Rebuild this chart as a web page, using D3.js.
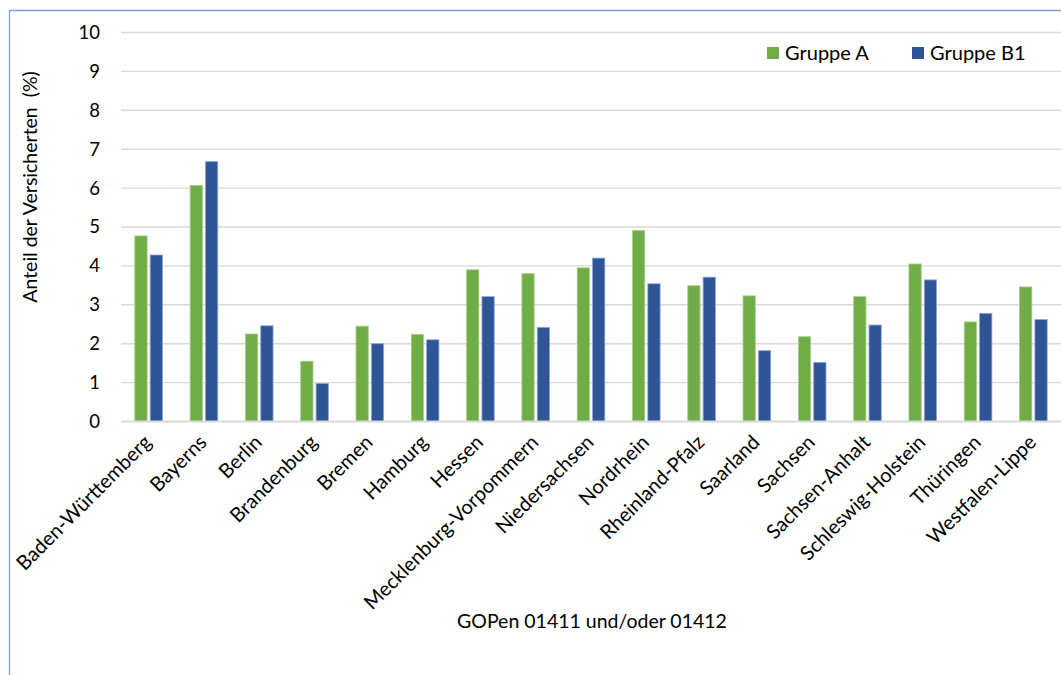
<!DOCTYPE html>
<html>
<head>
<meta charset="utf-8">
<script src="https://cdn.jsdelivr.net/npm/d3@7"></script>
<style>
  html, body { margin: 0; padding: 0; background: #fff; }
  svg { display: block; font-family: Lato, "Open Sans", sans-serif; }
</style>
</head>
<body>
<svg id="chart" width="1061" height="675"></svg>
<script>
// Regions (KV-Bezirke)
const categories = [
  "Baden-Württemberg", "Bayerns", "Berlin", "Brandenburg", "Bremen", "Hamburg",
  "Hessen", "Mecklenburg-Vorpommern", "Niedersachsen", "Nordrhein", "Rheinland-Pfalz",
  "Saarland", "Sachsen", "Sachsen-Anhalt", "Schleswig-Holstein", "Thüringen", "Westfalen-Lippe"
];
const seriesNames = ["Gruppe A", "Gruppe B1"];
const gruppeA  = [4.77, 6.07, 2.25, 1.55, 2.45, 2.24, 3.90, 3.80, 3.95, 4.91, 3.49, 3.23, 2.18, 3.21, 4.05, 2.56, 3.46];
const gruppeB1 = [4.28, 6.68, 2.46, 0.98, 2.00, 2.10, 3.21, 2.42, 4.20, 3.54, 3.71, 1.82, 1.52, 2.48, 3.64, 2.78, 2.62];
const yTicks = [0, 1, 2, 3, 4, 5, 6, 7, 8, 9, 10];
const yTitle = "Anteil der Versicherten  (%)";
const xTitle = "GOPen 01411 und/oder 01412";

const colors = { "Gruppe A": "#70ad47", "Gruppe B1": "#2f5597" };
const strokes = { "Gruppe A": "#a8d08d", "Gruppe B1": "#8fa7d4" };

const svg = d3.select("#chart");

// chart frame
svg.append("path")
  .attr("d", "M9.5,675 L9.5,10.5 L1061,10.5")
  .attr("fill", "none")
  .attr("stroke", "#7f9fdb")
  .attr("stroke-width", 1.3);

const plot = { left: 121, right: 1061, top: 32.5, bottom: 421.5 };

const x = d3.scaleBand().domain(categories).range([plot.left, plot.right])
  .paddingInner(0.5).paddingOuter(0.25);
const xInner = d3.scaleBand().domain(seriesNames).range([0, x.bandwidth()]).paddingInner(0.2);
const y = d3.scaleLinear().domain([0, 10]).range([plot.bottom, plot.top]);

// gridlines
svg.append("g").selectAll("line")
  .data(yTicks.filter(d => d > 0))
  .join("line")
  .attr("x1", plot.left).attr("x2", plot.right)
  .attr("y1", d => y(d)).attr("y2", d => y(d))
  .attr("stroke", "#d9d9d9").attr("stroke-width", 1.4);

// y tick labels
const yAxis = d3.axisLeft(y).tickValues(yTicks).tickSize(0).tickPadding(0).tickFormat(d3.format("d"));
const gy = svg.append("g").attr("transform", "translate(100,0)").call(yAxis);
gy.select(".domain").remove();
gy.selectAll("text").attr("font-size", 18.5).attr("fill", "#000").attr("font-family", "Lato, sans-serif");

// bars
const rows = categories.map((c, i) => ({ c, vals: [
  { s: "Gruppe A", v: gruppeA[i] }, { s: "Gruppe B1", v: gruppeB1[i] }
]}));
const groups = svg.append("g").selectAll("g")
  .data(rows).join("g")
  .attr("transform", d => `translate(${x(d.c)},0)`);
groups.selectAll("rect")
  .data(d => d.vals).join("rect")
  .attr("x", d => xInner(d.s))
  .attr("y", d => y(d.v))
  .attr("width", xInner.bandwidth())
  .attr("height", d => y(0) - y(d.v))
  .attr("fill", d => colors[d.s])
  .attr("stroke", d => strokes[d.s])
  .attr("stroke-width", 0.8);

// baseline
svg.append("line")
  .attr("x1", plot.left).attr("x2", plot.right)
  .attr("y1", y(0)).attr("y2", y(0))
  .attr("stroke", "#d9d9d9").attr("stroke-width", 2);

// category labels (rotated)
const xAxis = d3.axisBottom(x).tickSize(0).tickPadding(0);
const gx = svg.append("g").attr("transform", `translate(0,${y(0)})`).call(xAxis);
gx.select(".domain").remove();
gx.selectAll("text")
  .attr("font-size", 20).attr("fill", "#000").attr("font-family", "Lato, sans-serif")
  .attr("text-anchor", "end")
  .attr("dy", null)
  .attr("y", 0)
  .attr("transform", "translate(4,22) rotate(-45)");

// axis titles
svg.append("text")
  .attr("transform", `translate(37,187) rotate(-90)`)
  .attr("text-anchor", "middle")
  .attr("font-size", 19.5).attr("fill", "#000")
  .style("white-space", "pre")
  .text(yTitle);

svg.append("text")
  .attr("x", 592).attr("y", 628)
  .attr("text-anchor", "middle")
  .attr("font-size", 19.5).attr("fill", "#000")
  .text(xTitle);

// legend
const legendX = [767, 912];
const legend = svg.append("g").selectAll("g")
  .data(seriesNames).join("g")
  .attr("transform", (d, i) => `translate(${legendX[i]},47)`);
legend.append("rect")
  .attr("width", 12).attr("height", 12)
  .attr("fill", d => colors[d]);
legend.append("text")
  .attr("x", 18).attr("y", 12.5)
  .attr("font-size", 20).attr("fill", "#000")
  .text(d => d);
</script>
</body>
</html>
